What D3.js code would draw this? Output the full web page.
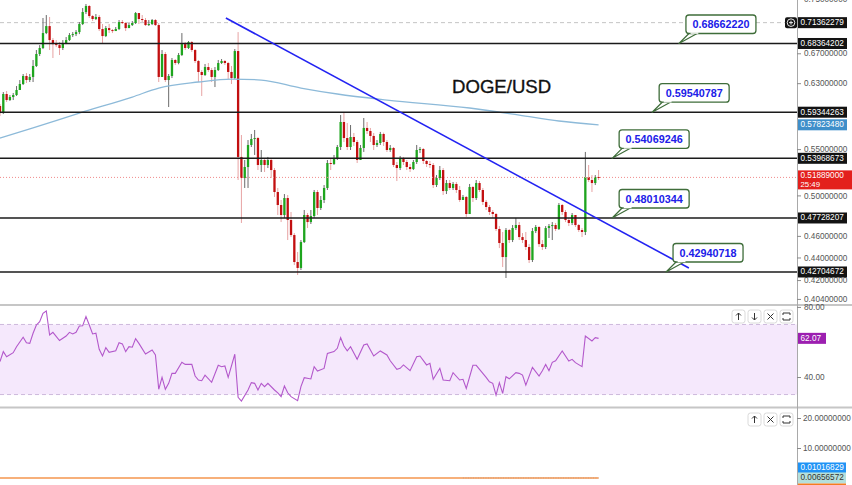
<!DOCTYPE html>
<html><head><meta charset="utf-8">
<script src="https://cdn.jsdelivr.net/npm/d3@7"></script>
<style>body{margin:0;background:#fff;}svg{display:block;font-family:"Liberation Sans",Arial,sans-serif;}</style>
</head><body><svg id="c" width="852" height="485"></svg>
<script>
// ---------- DATA ----------
const closes = [.5924,.6161,.6085,.6123,.6148,.6212,.6289,.6394,.6341,.6381,
.6527,.6690,.6773,.6985,.7086,.6885,.6828,.6814,.6773,.6842,
.6885,.6956,.6970,.6999,.7116,.7294,.7385,.7234,.7190,.7220,
.7043,.6942,.7057,.7028,.7014,.7043,.7145,.7131,.7057,.7101,
.7131,.7279,.7190,.7175,.7101,.7116,.7175,.7101,.6381,.6690,
.6341,.6394,.6608,.6567,.6676,.6828,.6773,.6857,.6745,.6594,
.6447,.6407,.6513,.6473,.6381,.6473,.6567,.6594,.6567,.6447,
.6367,.6731,.5412,.5182,.5301,.5547,.5616,.5627,.5323,.5378,
.5323,.5378,.5268,.5035,.4902,.4802,.4973,.4753,.4608,.4359,
.4306,.4542,.4802,.4733,.4792,.5035,.4872,.4953,.5077,.5345,
.5334,.5400,.5524,.5816,.5627,.5524,.5639,.5581,.5378,.5513,
.5745,.5709,.5651,.5547,.5570,.5674,.5581,.5490,.5513,.5323,
.5290,.5400,.5356,.5301,.5279,.5356,.5490,.5501,.5367,.5334,
.5323,.5108,.5182,.5268,.5045,.5129,.5077,.5119,.5056,.4953,
.4984,.4812,.5087,.4973,.5129,.5056,.4933,.4882,.4832,.4812,
.4666,.4533,.4404,.4656,.4561,.4675,.4704,.4589,.4561,.4496,
.4377,.4646,.4685,.4523,.4496,.4675,.4694,.4704,.4666,.4902,
.4832,.4753,.4724,.4802,.4704,.4656,.4637,.5193,.5161,.5129,
.5193,.51889];
const opens = [.6011,.5924,.6161,.6085,.6123,.6148,.6212,.6289,.6394,.6341,
.6381,.6527,.6690,.6773,.6985,.7086,.6885,.6828,.6814,.6773,
.6842,.6885,.6956,.6970,.6999,.7116,.7294,.7385,.7234,.7190,
.7220,.7043,.6942,.7057,.7028,.7014,.7043,.7145,.7131,.7057,
.7101,.7131,.7279,.7190,.7175,.7101,.7116,.7175,.7101,.6381,
.6690,.6341,.6394,.6608,.6567,.6676,.6828,.6773,.6857,.6745,
.6594,.6447,.6407,.6513,.6473,.6381,.6473,.6567,.6594,.6567,
.6447,.6367,.6731,.5412,.5182,.5301,.5547,.5616,.5627,.5323,
.5378,.5323,.5378,.5268,.5035,.4902,.4802,.4973,.4753,.4608,
.4359,.4306,.4542,.4802,.4733,.4792,.5035,.4872,.4953,.5077,
.5345,.5334,.5400,.5524,.5816,.5627,.5524,.5639,.5581,.5378,
.5513,.5745,.5709,.5651,.5547,.5570,.5674,.5581,.5490,.5513,
.5323,.5290,.5400,.5356,.5301,.5279,.5356,.5490,.5501,.5367,
.5334,.5323,.5108,.5182,.5268,.5045,.5129,.5077,.5119,.5056,
.4953,.4984,.4812,.5087,.4973,.5129,.5056,.4933,.4882,.4832,
.4812,.4666,.4533,.4404,.4656,.4561,.4675,.4704,.4589,.4561,
.4496,.4377,.4646,.4685,.4523,.4496,.4675,.4694,.4704,.4666,
.4902,.4832,.4753,.4724,.4802,.4704,.4656,.4637,.5193,.5161,
.5129,.5193];
const highs = [.6035,.6186,.6199,.6148,.6174,.6263,.6341,.6420,.6433,.6420,
.6608,.6745,.6814,.7205,.7249,.7220,.6913,.6885,.6857,.6885,
.6928,.6985,.6999,.7028,.7145,.7354,.7415,.7400,.7249,.7264,
.7249,.7116,.7087,.7116,.7043,.7072,.7175,.7175,.7145,.7131,
.7160,.7294,.7279,.7249,.7205,.7175,.7190,.7190,.7131,.6745,
.6717,.6420,.6635,.6621,.6704,.6985,.6857,.6871,.6871,.6759,
.6608,.6473,.6554,.6567,.6500,.6513,.6608,.6621,.6608,.6581,
.6527,.6759,.6999,.5662,.5378,.5604,.5674,.5721,.5640,.5490,
.5400,.5412,.5400,.5290,.5077,.4953,.5014,.5004,.4832,.4627,
.4450,.4561,.4852,.4822,.4852,.5056,.5056,.4994,.5108,.5378,
.5400,.5434,.5547,.5900,.5937,.5804,.5780,.5686,.5604,.5547,
.5864,.5816,.5745,.5686,.5604,.5698,.5690,.5604,.5547,.5524,
.5356,.5423,.5412,.5378,.5334,.5378,.5547,.5524,.5513,.5378,
.5367,.5345,.5214,.5312,.5290,.5161,.5161,.5140,.5140,.5098,
.5004,.4994,.5119,.5098,.5161,.5150,.5077,.4953,.4902,.4852,
.4822,.4694,.4637,.4675,.4666,.4704,.4773,.4733,.4627,.4637,
.4523,.4675,.4704,.4694,.4561,.4694,.4714,.4733,.4724,.4922,
.4912,.4852,.4773,.4822,.4802,.4714,.4675,.5468,.5323,.5214,
.5214,.5268];
const lows = [.5888,.5912,.6060,.6073,.6085,.6136,.6212,.6276,.6302,.6315,
.6315,.6513,.6662,.6759,.6970,.6745,.6635,.6786,.6676,.6745,
.6828,.6871,.6928,.6942,.6970,.7101,.7264,.7205,.7160,.7175,
.7014,.6842,.6928,.6985,.6985,.7014,.7028,.7116,.7014,.7057,
.7087,.7116,.7116,.7145,.7087,.7087,.7101,.7087,.6315,.6381,
.6315,.5998,.6367,.6540,.6550,.6662,.6745,.6759,.6717,.6567,
.6315,.6136,.6394,.6447,.6315,.6250,.6460,.6554,.6540,.6354,
.6289,.6354,.5161,.4724,.5077,.5077,.5524,.5434,.5268,.5247,
.5247,.5290,.5182,.4984,.4802,.4733,.4773,.4561,.4589,.4332,
.4244,.4288,.4533,.4675,.4714,.4773,.4802,.4852,.4922,.5056,
.5268,.5323,.5378,.5490,.5581,.5490,.5490,.5536,.5345,.5378,
.5468,.5674,.5581,.5490,.5524,.5547,.5536,.5468,.5468,.5301,
.5150,.5268,.5323,.5268,.5247,.5268,.5334,.5456,.5334,.5301,
.5290,.5077,.5087,.5161,.5004,.5014,.5056,.5056,.5025,.4933,
.4953,.4783,.4812,.4933,.4953,.5035,.4902,.4852,.4802,.4773,
.4646,.4486,.4314,.4218,.4533,.4542,.4656,.4561,.4533,.4468,
.4350,.4359,.4627,.4496,.4468,.4477,.4580,.4561,.4646,.4656,
.4802,.4733,.4694,.4704,.4685,.4637,.4589,.4608,.5140,.5035,
.5108,.5161];

// moving average (read at vertices)
const maIdx = [0,10,24,40,48,60,70,79,91,102,117,142,157,169,181];
const maVal = [.5627,.5745,.5924,.6123,.6237,.6315,.6354,.6341,.6237,.6161,.6085,.5986,.5900,.5828,.5782348];

// RSI (read at vertices)
const rsiIdx = [0,1,2,4,5,7,8,9,10,11,12,13,14,15,16,18,20,21,22,23,24,25,26,27,28,29,30,31,32,33,35,36,37,38,39,40,41,42,44,46,47,48,49,50,51,52,53,55,56,58,59,60,61,62,64,66,67,68,69,71,72,73,75,76,77,78,79,80,81,83,84,85,86,87,88,90,91,92,94,95,96,98,99,101,102,103,104,105,106,108,110,111,113,115,117,118,120,121,122,124,126,127,129,130,131,133,134,136,137,139,140,141,143,144,146,147,148,149,150,151,152,153,154,156,157,158,159,161,163,164,165,166,167,168,170,172,173,174,176,177,179,180,181];
const rsiVal = [48.8,54.5,51.6,53.9,57.3,62.7,59.6,59.2,65.0,69.7,71.6,76.4,77.7,64.0,65.5,60.8,63.4,65.5,64.6,65.5,69.1,69.3,74.5,69.7,64.6,65.0,55.8,52.0,56.8,54.1,55.0,59.6,58.9,54.5,57.3,57.0,61.9,59.2,53.1,55.4,52.6,33.0,39.8,33.0,36.4,42.1,42.1,48.4,47.2,47.2,40.6,38.3,37.9,41.1,37.0,46.7,45.9,46.3,39.8,53.0,28.4,26.3,32.6,36.8,36.4,32.6,36.4,34.5,36.4,32.6,31.0,28.8,34.9,31.0,28.8,26.5,34.5,39.6,38.9,45.9,43.4,44.9,53.5,54.5,56.4,62.5,57.7,55.0,57.3,50.1,58.3,58.9,52.0,54.9,52.6,49.3,44.4,45.0,46.9,43.6,51.6,52.0,46.9,47.8,38.7,45.0,38.3,37.9,42.5,38.3,38.7,33.5,46.7,46.7,42.1,39.8,37.3,36.4,29.7,36.8,30.7,40.2,39.0,42.5,42.1,41.1,35.4,45.5,40.6,43.6,47.2,43.6,48.4,49.3,54.9,49.1,50.1,48.2,45.9,63.4,60.6,62.5,62.07];

// drawn levels and annotations
const levels = [0.68364202, 0.59344263, 0.53968673, 0.47728207, 0.42704672];
const calloutText = ["0.68662220","0.59540787","0.54069246","0.48010344","0.42940718"];
const calloutAt = [205.3, 197.2, 185.1, 185.1, 201.4];
const trendIdx = [68.3, 208.3];
const trendPrice = [0.7205, 0.4306];
const highLine = 0.71362279;
const lastPrice = 0.51889;
const countdown = "25:49";
const priceTicks = [0.75,0.67,0.63,0.55,0.50,0.46,0.44,0.42,0.404];
const rsiTicks = [80,40];
const rsiBand = [70,30];
const lowTicks = [20,10];
const lowVals = [0.01016829, 0.00656572];
const title = "DOGE/USD";

// ---------- LAYOUT ----------
const W = 852, H = 485, PR = 797, FS = 8.2;
const svg = d3.select("#c");
const x = d3.scaleLinear().domain([0,241]).range([0,PR]);
const y = d3.scaleLog().domain([0.3998,0.7477]).range([304,0]);
const yR = d3.scaleLinear().domain([22.9,81.1]).range([407,305]);
const yB = d3.scaleLinear().domain([-2.333,23.667]).range([485,407]);

const defs = svg.append("defs");
defs.append("clipPath").attr("id","mc").append("rect").attr("x",0).attr("y",0).attr("width",PR).attr("height",304);
defs.append("clipPath").attr("id","rc").append("rect").attr("x",0).attr("y",306).attr("width",PR).attr("height",101);

const main = svg.append("g").attr("clip-path","url(#mc)");

main.append("line").attr("x1",0).attr("x2",PR).attr("y1",y(highLine)).attr("y2",y(highLine))
  .attr("stroke","#c4c4c4").attr("stroke-dasharray","4,3");

const candles = closes.map((c,i)=>({i,o:opens[i],h:highs[i],l:lows[i],c}));
const cg = main.append("g");
cg.selectAll("line").data(candles).join("line")
  .attr("x1",d=>x(d.i)).attr("x2",d=>x(d.i))
  .attr("y1",d=>y(d.h)).attr("y2",d=>y(d.l))
  .attr("stroke",d=>d.c>=d.o?"#6b6b6b":"#e7a3a3").attr("stroke-width",1);
cg.selectAll("rect").data(candles).join("rect")
  .attr("x",d=>x(d.i)-1.15).attr("width",2.3)
  .attr("y",d=>y(Math.max(d.o,d.c)))
  .attr("height",d=>Math.max(1,Math.abs(y(d.o)-y(d.c))))
  .attr("fill",d=>d.c>=d.o?"#1ea51e":"#c20f10");

main.append("line").attr("x1",0).attr("x2",PR).attr("y1",y(lastPrice)).attr("y2",y(lastPrice))
  .attr("stroke","#f08a8a").attr("stroke-dasharray","1,2");

main.append("path").datum(maIdx.map((d,k)=>[d,maVal[k]]))
  .attr("d",d3.line().x(d=>x(d[0])).y(d=>y(d[1])).curve(d3.curveMonotoneX))
  .attr("fill","none").attr("stroke","#8dbad9").attr("stroke-width",1.3);

main.selectAll("line.lvl").data(levels).join("line").attr("class","lvl")
  .attr("x1",0).attr("x2",PR).attr("y1",d=>y(d)).attr("y2",d=>y(d))
  .attr("stroke","#1b1b1b").attr("stroke-width",1.6);

main.append("line")
  .attr("x1",x(trendIdx[0])).attr("y1",y(trendPrice[0]))
  .attr("x2",x(trendIdx[1])).attr("y2",y(trendPrice[1]))
  .attr("stroke","#2323f2").attr("stroke-width",1.6);

main.append("text").attr("x",452).attr("y",93).text(title)
  .attr("font-size",18.6).attr("fill","#111").attr("stroke","#111").attr("stroke-width",0.35);

calloutText.forEach((t,k)=>{
  const ax = x(calloutAt[k]), ay = y(levels[k]);
  const bx = ax+7, bb = ay-10, bw = 70, bh = 18.5;
  const g = main.append("g");
  g.append("path").attr("d",`M${bx+4},${bb-1}L${ax},${ay}L${bx+13},${bb-1}Z`)
    .attr("fill","#fff").attr("stroke","#3f6d3a").attr("stroke-width",1.2).attr("stroke-linejoin","round");
  g.append("rect").attr("x",bx).attr("y",bb-bh).attr("width",bw).attr("height",bh).attr("rx",3)
    .attr("fill","#fff").attr("stroke","#3f6d3a").attr("stroke-width",1.3);
  g.append("path").attr("d",`M${bx+4.6},${bb-0.4}L${bx+12.4},${bb-0.4}`).attr("stroke","#fff").attr("stroke-width",1.4);
  g.append("text").attr("x",bx+bw/2).attr("y",bb-bh/2).attr("text-anchor","middle").attr("dominant-baseline","central")
    .attr("font-size",10.8).attr("font-weight","bold").attr("fill","#2020e8").text(t);
});

// ---------- RSI PANE ----------
const rp = svg.append("g").attr("clip-path","url(#rc)");
rp.append("rect").attr("x",0).attr("width",PR).attr("y",yR(rsiBand[0])).attr("height",yR(rsiBand[1])-yR(rsiBand[0]))
  .attr("fill","#f5e8fc");
rp.selectAll("line.b").data(rsiBand).join("line").attr("class","b")
  .attr("x1",0).attr("x2",PR).attr("y1",d=>yR(d)).attr("y2",d=>yR(d))
  .attr("stroke","#cdb8dc").attr("stroke-dasharray","4,3");
rp.append("path").datum(rsiIdx.map((d,k)=>[d,rsiVal[k]]))
  .attr("d",d3.line().x(d=>x(d[0])).y(d=>yR(d[1])))
  .attr("fill","none").attr("stroke","#b358cb").attr("stroke-width",1.1);

// ---------- LOWER PANE ----------
svg.append("line").attr("x1",x(0)).attr("x2",x(181)).attr("y1",yB(lowVals[1])).attr("y2",yB(lowVals[1]))
  .attr("stroke","#f7b07a").attr("stroke-width",2);
svg.append("line").attr("x1",x(140)).attr("x2",x(181)).attr("y1",yB(lowVals[1])).attr("y2",yB(lowVals[1]))
  .attr("stroke","#c89a80").attr("stroke-width",0.8).attr("stroke-dasharray","1,1.5");

// ---------- FRAME ----------
[305,407.5].forEach(v=>svg.append("line").attr("x1",0).attr("x2",W).attr("y1",v).attr("y2",v)
  .attr("stroke","#c6c6c6").attr("stroke-width",2));
svg.append("line").attr("x1",PR+0.5).attr("x2",PR+0.5).attr("y1",0).attr("y2",H).attr("stroke","#a9a9a9");

// ---------- AXES ----------
function styleAxis(g){
  g.select(".domain").remove();
  g.selectAll("line").attr("stroke","#8a8a8a");
  g.selectAll("text").attr("fill","#555").attr("font-size",FS).attr("font-family","Liberation Sans, Arial, sans-serif");
}
svg.append("g").attr("transform",`translate(${PR},0)`)
  .call(d3.axisRight(y).tickValues(priceTicks).tickFormat(d3.format(".8f")).tickSize(4).tickPadding(3)).call(styleAxis);
svg.append("g").attr("transform",`translate(${PR},0)`)
  .call(d3.axisRight(yR).tickValues(rsiTicks).tickFormat(d3.format(".2f")).tickSize(4).tickPadding(3)).call(styleAxis);
svg.append("g").attr("transform",`translate(${PR},0)`)
  .call(d3.axisRight(yB).tickValues(lowTicks).tickFormat(d3.format(".8f")).tickSize(4).tickPadding(2)).call(styleAxis);

function badge(cy, txt, bg, fg, w){
  const g = svg.append("g");
  g.append("rect").attr("x",798).attr("y",cy-5.5).attr("width",w||49).attr("height",11).attr("fill",bg);
  g.append("text").attr("x",800.5).attr("y",cy).attr("dominant-baseline","central")
    .attr("font-size",FS).attr("fill",fg).text(txt);
}
const f8 = d3.format(".8f");
badge(y(highLine), f8(highLine), "#131313", "#fff");
levels.forEach(v=>badge(y(v), f8(v), "#131313", "#fff"));
badge(y(maVal[maVal.length-1]), f8(maVal[maVal.length-1]), "#3f8fca", "#fff");
{
  const cy = y(lastPrice);
  svg.append("rect").attr("x",798).attr("y",cy-7).attr("width",54).attr("height",19).attr("fill","#e3201c");
  svg.append("text").attr("x",800.5).attr("y",cy-1.5).attr("dominant-baseline","central").attr("font-size",FS).attr("fill","#fff").text(f8(lastPrice));
  svg.append("text").attr("x",800.5).attr("y",cy+7).attr("dominant-baseline","central").attr("font-size",7.8).attr("fill","#fff").text(countdown);
}
{
  const cy = yR(rsiVal[rsiVal.length-1]);
  svg.append("rect").attr("x",798).attr("y",cy-5.5).attr("width",28).attr("height",11).attr("fill","#9c1fb0");
  svg.append("text").attr("x",800.5).attr("y",cy).attr("dominant-baseline","central").attr("font-size",FS).attr("fill","#fff").text(rsiVal[rsiVal.length-1].toFixed(2));
}
badge(yB(lowVals[1])-10, f8(lowVals[0]), "#1f93f5", "#fff", 48);
badge(yB(lowVals[1]), f8(lowVals[1]), "#b5e0dc", "#333", 48);
svg.append("rect").attr("x",798).attr("y",483.5).attr("width",48).attr("height",2).attr("fill","#f57c20");

{
  const cy = y(highLine);
  svg.append("rect").attr("x",785).attr("y",cy-5.5).attr("width",12).attr("height",11).attr("rx",2).attr("fill","#131313");
  svg.append("circle").attr("cx",791).attr("cy",cy).attr("r",3.8).attr("fill","none").attr("stroke","#fff").attr("stroke-width",0.9);
  svg.append("path").attr("d",`M789,${cy}h4M791,${cy-2}v4`).attr("stroke","#fff").attr("stroke-width",0.9);
}

function buttons(xs, yTop, kinds){
  xs.forEach((bx,k)=>{
    const g = svg.append("g");
    g.append("rect").attr("x",bx).attr("y",yTop).attr("width",13).attr("height",13).attr("rx",2.5)
      .attr("fill","#fff").attr("stroke","#dadada");
    const cx = bx+6.5, cy = yTop+6.5;
    if(kinds[k]==="up") g.append("path").attr("d",`M${cx},${cy+3.5}V${cy-3.5}M${cx-2.5},${cy-1}L${cx},${cy-3.5}L${cx+2.5},${cy-1}`);
    if(kinds[k]==="down") g.append("path").attr("d",`M${cx},${cy-3.5}V${cy+3.5}M${cx-2.5},${cy+1}L${cx},${cy+3.5}L${cx+2.5},${cy+1}`);
    if(kinds[k]==="x") g.append("path").attr("d",`M${cx-3},${cy-3}L${cx+3},${cy+3}M${cx+3},${cy-3}L${cx-3},${cy+3}`);
    if(kinds[k]==="max") g.append("path").attr("d",`M${cx-3.5},${cy-1.5}V${cy-3.5}H${cx+3.5}V${cy-1.5}M${cx-3.5},${cy+1.5}V${cy+3.5}H${cx+3.5}V${cy+1.5}`);
    g.selectAll("path").attr("fill","none").attr("stroke","#333").attr("stroke-width",1);
  });
}
buttons([732,748,764,780], 310, ["up","down","x","max"]);
buttons([748,764,780], 413, ["up","x","max"]);
</script></body></html>
